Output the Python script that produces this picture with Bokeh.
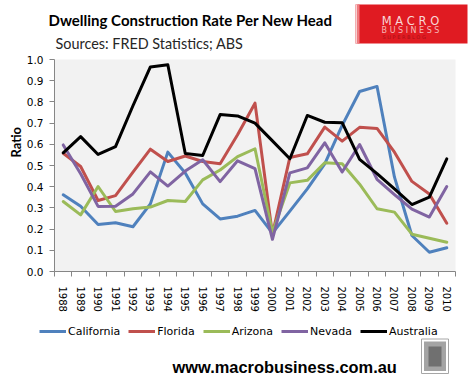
from bokeh.plotting import figure
from bokeh.layouts import column, row
from bokeh.models import (FixedTicker, Legend, LegendItem, NumeralTickFormatter,
                          LinearAxis, Range1d)
from bokeh.core.properties import value
from bokeh.embed import file_html
from bokeh.resources import INLINE

years = [str(y) for y in range(1988, 2011)]
california = [0.362, 0.308, 0.222, 0.230, 0.211, 0.319, 0.563, 0.465, 0.319, 0.248, 0.261, 0.288,
              0.181, 0.285, 0.390, 0.508, 0.689, 0.849, 0.873, 0.445, 0.170, 0.091, 0.112]
florida = [0.558, 0.495, 0.335, 0.358, 0.469, 0.577, 0.519, 0.545, 0.519, 0.508, 0.645, 0.794,
           0.175, 0.538, 0.555, 0.681, 0.615, 0.680, 0.675, 0.563, 0.425, 0.366, 0.228]
arizona = [0.330, 0.267, 0.401, 0.283, 0.296, 0.304, 0.335, 0.330, 0.432, 0.479, 0.542, 0.579,
           0.184, 0.418, 0.430, 0.513, 0.508, 0.412, 0.296, 0.280, 0.176, 0.157, 0.138]
nevada = [0.597, 0.461, 0.307, 0.308, 0.366, 0.470, 0.403, 0.474, 0.527, 0.424, 0.522, 0.485,
          0.152, 0.465, 0.489, 0.607, 0.469, 0.599, 0.435, 0.363, 0.294, 0.257, 0.401]
australia = [0.560, 0.636, 0.552, 0.589, 0.782, 0.965, 0.975, 0.557, 0.547, 0.740, 0.734, 0.700,
             0.616, 0.532, 0.736, 0.704, 0.702, 0.529, 0.462, 0.390, 0.316, 0.351, 0.531]
series_names = ["California", "Florida", "Arizona", "Nevada", "Australia"]
series_values = [california, florida, arizona, nevada, australia]
series_colors = ["#4F81BD", "#C0504D", "#9BBB59", "#8064A2", "#000000"]
y_ticks = [0.0, 0.1, 0.2, 0.3, 0.4, 0.5, 0.6, 0.7, 0.8, 0.9, 1.0]

title_text = "Dwelling Construction Rate Per New Head"
subtitle_text = "Sources: FRED Statistics; ABS"
y_title = "Ratio"
footer_text = "www.macrobusiness.com.au"


def blank(width, height):
    f = figure(width=width, height=height, output_backend="svg", toolbar_location=None,
               x_range=Range1d(0, width), y_range=Range1d(height, 0),
               x_axis_location=None, y_axis_location=None,
               min_border_left=0, min_border_right=0, min_border_top=0, min_border_bottom=0)
    f.outline_line_color = None
    f.xgrid.grid_line_color = None
    f.ygrid.grid_line_color = None
    f.background_fill_color = "white"
    f.border_fill_color = "white"
    return f


W = 469
xs = list(range(len(years)))

# ---------- header ----------
header = blank(W, 52)
header.text(x=[48], y=[19.3], text=[title_text], text_font=value("Lato"),
            text_font_style="bold", text_font_size=value("15px"),
            text_baseline="alphabetic", text_align="left", text_color="#000000")
header.text(x=[55], y=[43.3], text=[subtitle_text], text_font=value("Lato"),
            text_font_size=value("14.4px"),
            text_baseline="alphabetic", text_align="left", text_color="#262626")
header.quad(left=[355], right=[467], top=[4], bottom=[43], fill_color="#E01B22", line_color=None)
header.quad(left=[355], right=[357], top=[4], bottom=[43], fill_color="#F8D0D1", line_color=None)
header.quad(left=[357], right=[359], top=[4], bottom=[43], fill_color="#EE7E81", line_color=None)
header.text(x=[410], y=[20], text=["M A C R O"], text_font=value("DejaVu Sans"),
            text_font_size=value("11.5px"), text_align="center", text_baseline="alphabetic",
            text_color="#F8D8D8")
header.text(x=[410], y=[30], text=["B U S I N E S S"], text_font=value("DejaVu Sans"),
            text_font_size=value("8px"), text_align="center", text_baseline="alphabetic",
            text_color="#F6B8B8")
header.text(x=[410], y=[36.5], text=["S  U  P  E  R  B  L  O  G"], text_font=value("DejaVu Sans"),
            text_font_size=value("5px"), text_align="center", text_baseline="alphabetic",
            text_color="#A81016")

# ---------- left strip with axis title ----------
MAIN_H = 264
STRIP_W = 23
left = blank(STRIP_W, MAIN_H)
left.text(x=[15.5], y=[155 - 52], text=[y_title], angle=1.5708, text_font=value("Lato"),
          text_font_style="bold", text_font_size=value("13px"),
          text_baseline="alphabetic", text_align="center", text_color="#000000")

# ---------- main chart ----------
p = figure(width=W - STRIP_W, height=MAIN_H, output_backend="svg", toolbar_location=None,
           x_range=(-0.5, len(years) - 0.5), y_range=(0, 1.0),
           x_axis_location=None, y_axis_location=None,
           min_border_left=52 - STRIP_W, min_border_right=14, min_border_top=7, min_border_bottom=45)
p.background_fill_color = "#F2F2F2"
p.border_fill_color = "white"
p.outline_line_color = None
p.xgrid.grid_line_color = None
p.ygrid.grid_line_color = None

yax = LinearAxis(ticker=FixedTicker(ticks=y_ticks, minor_ticks=[]),
                 formatter=NumeralTickFormatter(format="0.0"))
yax.axis_line_color = "#868686"
yax.major_tick_line_color = "#868686"
yax.major_tick_out = 5
yax.major_tick_in = 0
yax.minor_tick_line_color = None
yax.major_label_standoff = 6
yax.major_label_text_font = "DejaVu Sans"
yax.major_label_text_font_size = "10.5px"
yax.major_label_text_color = "#000000"
p.add_layout(yax, "left")

xax = LinearAxis(ticker=FixedTicker(ticks=xs, minor_ticks=[i - 0.5 for i in range(len(years) + 1)]))
xax.major_label_overrides = {i: y for i, y in enumerate(years)}
xax.major_label_orientation = "vertical"
xax.axis_line_color = "#868686"
xax.major_tick_line_color = None
xax.major_tick_out = 0
xax.major_tick_in = 0
xax.minor_tick_line_color = "#868686"
xax.minor_tick_out = 5
xax.minor_tick_in = 0
xax.major_label_standoff = 10
xax.major_label_text_font = "DejaVu Sans"
xax.major_label_text_font_size = "10px"
xax.major_label_text_color = "#000000"
p.add_layout(xax, "below")

for name, vals, col in zip(series_names, series_values, series_colors):
    p.line(xs, vals, line_color=col, line_width=3, line_join="round", line_cap="round")

# ---------- bottom: legend + footer ----------
BOT_H = 379 - 52 - MAIN_H
bottom = blank(W, BOT_H)
# same series drawn on a range that keeps them out of view; they feed the legend swatches
bottom.extra_y_ranges = {"off": Range1d(5, 6)}
items = []
for name, vals, col in zip(series_names, series_values, series_colors):
    r = bottom.line(xs, vals, line_color=col, line_width=3, y_range_name="off")
    items.append(LegendItem(label=name, renderers=[r]))
legend = Legend(items=items, orientation="horizontal", location=(39, BOT_H - (338 - 316)),
                glyph_width=27, glyph_height=14, label_height=14, label_standoff=2,
                spacing=8, padding=0, margin=0,
                label_text_font="DejaVu Sans", label_text_font_size="11px",
                label_text_color="#000000",
                background_fill_alpha=0, border_line_color=None)
bottom.add_layout(legend, "center")

bottom.text(x=[172], y=[366.7 - 316], text=[footer_text], text_font=value("Liberation Sans"),
            text_font_style="bold", text_font_size=value("16.4px"),
            text_baseline="alphabetic", text_align="left", text_color="#000000")
bottom.quad(left=[421], right=[448], top=[338.5 - 316], bottom=[373 - 316], fill_color="#FFFFFF",
            line_color="#A6A6A6", line_width=1)
bottom.quad(left=[423.5], right=[445.5], top=[341 - 316], bottom=[370.5 - 316], fill_color="#A4A4A4",
            line_color=None)
bottom.quad(left=[428], right=[441], top=[346 - 316], bottom=[366 - 316], fill_color="#707070",
            line_color=None)

layout = column(header, row(left, p, spacing=0), bottom, spacing=0)
open("out.html", "w").write(file_html(layout, INLINE))
